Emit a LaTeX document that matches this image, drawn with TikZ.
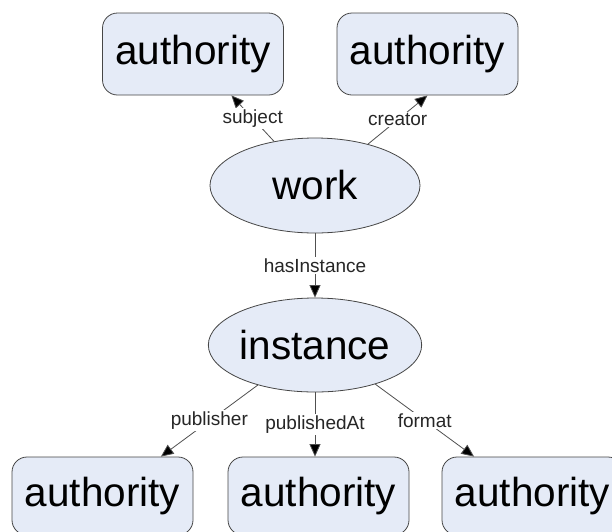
\documentclass[tikz,border=0pt]{standalone}
\usepackage{fontspec}
\setmainfont{Liberation Sans}
\usetikzlibrary{shapes.geometric,arrows.meta}
\definecolor{nodefill}{RGB}{229,235,247}
\definecolor{nodedraw}{RGB}{70,70,70}
\definecolor{edgecol}{RGB}{80,80,80}
\tikzset{
  authbox/.style={draw=nodedraw, fill=nodefill, rounded corners=15pt, line width=0.8pt,
    minimum width=181pt, inner sep=0pt, font=\fontsize{40.5}{48}\selectfont},
  classell/.style={draw=nodedraw, fill=nodefill, ellipse, line width=0.8pt, inner sep=0pt,
    font=\fontsize{40.5}{48}\selectfont},
  rel/.style={draw=edgecol, line width=0.8pt, -{Triangle[length=12.5pt,width=11pt,fill=black]}},
  rellabel/.style={fill=white, inner sep=1.5pt, text=black!85, font=\fontsize{19}{22}\selectfont}
}
\begin{document}
\begin{tikzpicture}[x=1pt,y=-1pt]
\path[use as bounding box, fill=white] (0,0) rectangle (612,531);
% top authorities
\node[authbox, minimum height=82pt] (sub) at (193,54) {authority};
\node[authbox, minimum height=82pt] (cre) at (427.5,54) {authority};
% classes
\node[classell, minimum width=210pt, minimum height=95pt] (work) at (315,185.5) {work};
\node[classell, minimum width=208pt, minimum height=94pt] (inst) at (315,345) {instance};
% bottom authorities
\node[authbox, minimum height=78pt] (pub) at (102.5,496) {authority};
\node[authbox, minimum height=78pt] (pat) at (318.5,496) {authority};
\node[authbox, minimum height=78pt] (fmt) at (532.5,496) {authority};
% connectors
\draw[rel] (work) -- node[rellabel]{subject} (sub);
\draw[rel] (work.38) -- node[rellabel]{creator} (cre.south);
\draw[rel] (work.south) -- node[rellabel]{hasInstance} (inst.north);
\draw[rel] (inst.215) -- node[rellabel]{publisher} (pub.34);
\draw[rel] (inst.south) -- node[rellabel]{publishedAt} (inst.south |- pat.north);
\draw[rel] (inst.-33) -- node[rellabel]{format} (fmt.146);
\end{tikzpicture}
\end{document}
